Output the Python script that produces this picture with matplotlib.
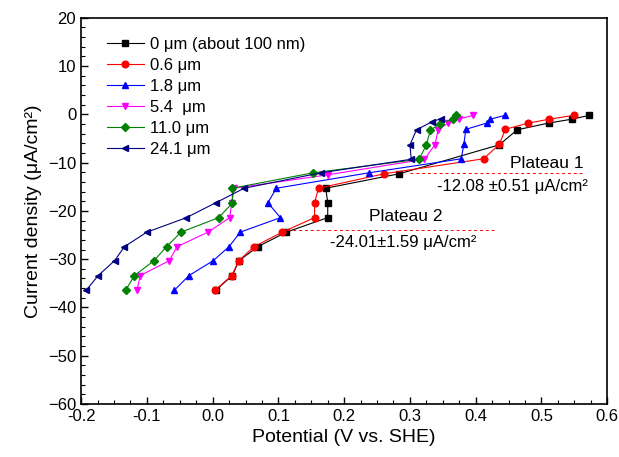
import matplotlib
matplotlib.use('Agg')
import matplotlib.pyplot as plt
from matplotlib.ticker import MultipleLocator, AutoMinorLocator

plt.rcParams['font.family'] = ['Liberation Sans', 'DejaVu Sans']

# film thickness series (potential in V vs SHE, current density in uA/cm2)
labels = ['0 μm (about 100 nm)', '0.6 μm', '1.8 μm', '5.4  μm', '11.0 μm', '24.1 μm']
colors = ['black', 'red', 'blue', 'magenta', 'green', 'navy']
markers = ['s', 'o', '^', 'v', 'D', '<']

x0 = [0.005, 0.030, 0.040, 0.069, 0.112, 0.175, 0.175, 0.172, 0.284, 0.436, 0.463, 0.511, 0.546, 0.573]
y0 = [-36.4, -33.4, -30.3, -27.4, -24.4, -21.4, -18.3, -15.3, -12.3, -6.3, -3.2, -1.8, -1.0, -0.2]

x1 = [0.004, 0.029, 0.040, 0.063, 0.106, 0.155, 0.155, 0.161, 0.261, 0.412, 0.436, 0.445, 0.480, 0.512, 0.549]
y1 = [-36.4, -33.4, -30.3, -27.4, -24.4, -21.4, -18.3, -15.3, -12.3, -9.2, -6.2, -3.1, -1.8, -1.0, -0.2]

x2 = [-0.058, -0.036, 0.001, 0.025, 0.042, 0.103, 0.084, 0.097, 0.238, 0.378, 0.382, 0.385, 0.417, 0.422, 0.445]
y2 = [-36.4, -33.4, -30.3, -27.4, -24.4, -21.4, -18.3, -15.3, -12.1, -9.2, -6.2, -3.1, -1.8, -1.0, -0.2]

x3 = [-0.115, -0.110, -0.066, -0.054, -0.007, 0.026, 0.029, 0.033, 0.176, 0.322, 0.338, 0.343, 0.358, 0.374, 0.396]
y3 = [-36.4, -33.4, -30.3, -27.4, -24.4, -21.4, -18.3, -15.3, -12.5, -9.3, -6.3, -3.2, -1.8, -1.0, -0.2]

x4 = [-0.132, -0.119, -0.089, -0.070, -0.048, 0.009, 0.030, 0.030, 0.153, 0.314, 0.325, 0.331, 0.346, 0.366, 0.370]
y4 = [-36.4, -33.4, -30.3, -27.4, -24.4, -21.4, -18.4, -15.3, -12.1, -9.3, -6.3, -3.3, -1.9, -0.9, -0.2]

x5 = [-0.192, -0.174, -0.149, -0.134, -0.100, -0.040, 0.005, 0.048, 0.165, 0.302, 0.300, 0.310, 0.334, 0.347]
y5 = [-36.4, -33.4, -30.3, -27.4, -24.4, -21.4, -18.3, -15.3, -12.1, -9.3, -6.3, -3.2, -1.5, -0.9]

xs = [x0, x1, x2, x3, x4, x5]
ys = [y0, y1, y2, y3, y4, y5]

plateau1 = -12.08
plateau2 = -24.01

fig = plt.figure(figsize=(6.19, 4.57), dpi=100)
ax = fig.add_axes([0.131, 0.116, 0.850, 0.845])

for x, y, c, m, lab in zip(xs, ys, colors, markers, labels):
    ms = 4.0 if m == 'D' else 4.8
    ax.plot(x, y, color=c, marker=m, ms=ms, lw=0.8, label=lab)

ax.plot([0.300, 0.564], [plateau1, plateau1], ls=(0, (3, 3)), color='red', lw=0.7)
ax.plot([0.113, 0.432], [plateau2, plateau2], ls=(0, (3, 3)), color='red', lw=0.7)

ax.text(0.564, -10.1, 'Plateau 1', fontsize=12.5, ha='right', va='center')
ax.text(0.571, -15.0, '-12.08 ±0.51 μA/cm²', fontsize=12, ha='right', va='center')
ax.text(0.294, -21.2, 'Plateau 2', fontsize=12.5, ha='center', va='center')
ax.text(0.179, -26.5, '-24.01±1.59 μA/cm²', fontsize=12, ha='left', va='center')

ax.set_xlim(-0.2, 0.6)
ax.set_ylim(-60, 20)
ax.xaxis.set_major_locator(MultipleLocator(0.1))
ax.xaxis.set_minor_locator(AutoMinorLocator(4))
ax.yaxis.set_major_locator(MultipleLocator(10))
ax.yaxis.set_minor_locator(AutoMinorLocator(5))
ax.xaxis.set_major_formatter(matplotlib.ticker.FormatStrFormatter('%.1f'))
ax.tick_params(which='major', direction='in', length=5, width=1.0, labelsize=12)
ax.tick_params(which='minor', direction='in', length=3, width=0.8)
for s in ax.spines.values():
    s.set_linewidth(1.2)

ax.set_xlabel('Potential (V vs. SHE)', fontsize=14)
ax.set_ylabel('Current density (μA/cm²)', fontsize=14)

ax.legend(loc='upper left', bbox_to_anchor=(0.049, 0.95), frameon=False, fontsize=12,
          borderpad=0, handlelength=2.2, handletextpad=0.4, labelspacing=0.36,
          borderaxespad=0)

fig.savefig('out.png', dpi=100)
